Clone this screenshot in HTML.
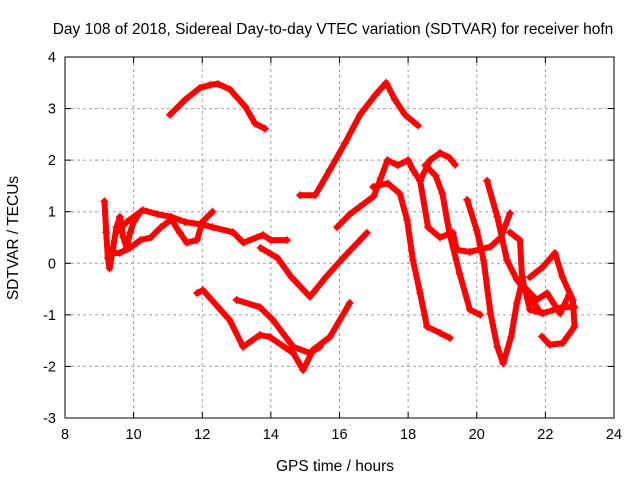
<!DOCTYPE html>
<html><head><meta charset="utf-8"><style>
body{margin:0;background:#fff}
svg{display:block;font-family:"Liberation Sans",sans-serif}
</style></head><body>
<svg id="chart" width="640" height="480">
<text x="333" y="34" text-anchor="middle" font-size="15.5">Day 108 of 2018, Sidereal Day-to-day VTEC variation (SDTVAR) for receiver hofn</text>
<text x="335" y="471" text-anchor="middle" font-size="15.5">GPS time / hours</text>
<text transform="translate(18,238) rotate(-90)" text-anchor="middle" font-size="15.5">SDTVAR / TECUs</text>
<g id="grid"></g><g id="series"></g><g id="axes"></g>
</svg>
<script>
const xTicks=[8,10,12,14,16,18,20,22,24];
const yTicks=[-3,-2,-1,0,1,2,3,4];
const traceA_t=[11.06,11.5,11.93,12.23,12.46,12.81,13.25,13.54,13.83];
const traceA_v=[2.88,3.17,3.40,3.46,3.48,3.37,3.04,2.71,2.61];
const traceB_t=[14.85,15.29,15.72,16.16,16.6,17.04,17.36,17.62,17.91,18.29];
const traceB_v=[1.32,1.32,1.81,2.33,2.88,3.26,3.50,3.17,2.88,2.67];
const traceC_t=[9.5,9.8,10.27,10.7,11.1,11.5,12.0,12.3,12.9,13.2,13.77,14.0,14.47];
const traceC_v=[0.6,0.8,1.03,0.95,0.9,0.8,0.75,0.7,0.6,0.4,0.55,0.45,0.45];
const traceC2_t=[9.3,9.6,9.9,10.2,10.5,10.8,11.1,11.35,11.55,11.85,12.0,12.3];
const traceC2_v=[0.2,0.2,0.3,0.45,0.5,0.7,0.85,0.59,0.4,0.45,0.8,1.0];
const traceP_t=[9.15,9.2,9.25,9.3,9.4,9.5,9.6,9.7,9.8,9.9,10.0,10.2];
const traceP_v=[1.2,0.6,0.1,-0.1,0.3,0.7,0.9,0.5,0.3,0.6,0.8,1.0];
const traceD_t=[13.7,14.2,14.6,15.14,15.6,16.1,16.6,16.8];
const traceD_v=[0.3,0.1,-0.27,-0.65,-0.27,0.1,0.45,0.59];
const traceE_t=[15.93,16.3,16.6,17.0,17.2,17.4,17.7,18.0,18.14,18.35,18.58,18.93,19.3,19.42,19.8,20.4,20.7,20.97];
const traceE_v=[0.7,0.95,1.1,1.3,1.65,2.0,1.9,2.0,1.81,1.6,0.7,0.5,0.6,0.26,0.22,0.32,0.5,0.97];
const traceF_t=[18.35,18.64,18.93,19.2,19.37];
const traceF_v=[1.6,2.0,2.14,2.05,1.91];
const traceF2_t=[18.5,18.8,19.0,19.2,19.5,19.8,20.1];
const traceF2_v=[1.9,1.7,1.35,0.6,-0.2,-0.9,-1.0];
const traceG_t=[16.98,17.41,17.76,17.97,18.14,18.35,18.55,18.93,19.22];
const traceG_v=[1.48,1.55,1.35,0.84,0.06,-0.58,-1.23,-1.35,-1.45];
const traceH_t=[20.3,20.6,20.88,21.17,21.5,21.8];
const traceH_v=[1.6,0.9,0.06,-0.32,-0.6,-0.9];
const traceI_t=[19.72,20.0,20.2,20.4,20.6,20.77,21.0,21.17,21.35];
const traceI_v=[1.23,0.64,0.06,-0.97,-1.62,-1.94,-1.43,-0.77,-0.27];
const traceJ_t=[21.55,21.93,22.28,22.5,22.8,22.85,22.5,22.13,21.9];
const traceJ_v=[-0.27,-0.07,0.2,-0.27,-0.71,-1.23,-1.55,-1.58,-1.42];
const traceK_t=[20.97,21.26,21.32,21.55,21.93,22.5,22.85];
const traceK_v=[0.6,0.45,-0.27,-0.9,-0.97,-0.85,-0.85];
const traceL_t=[21.3,21.75,22.05,22.43,22.7];
const traceL_v=[-0.4,-0.71,-0.58,-0.97,-0.6];
const traceM_t=[11.85,12.02,12.8,13.19,13.68,13.97,14.65,14.94,15.23,15.72,16.3];
const traceM_v=[-0.58,-0.52,-1.1,-1.62,-1.39,-1.43,-1.74,-2.07,-1.68,-1.43,-0.77];
const traceN_t=[13.0,13.68,14.06,14.65,15.14,15.43];
const traceN_v=[-0.71,-0.85,-1.1,-1.62,-1.74,-1.62];
const traces=[[traceA_t,traceA_v],[traceB_t,traceB_v],[traceC_t,traceC_v],[traceC2_t,traceC2_v],[traceP_t,traceP_v],[traceD_t,traceD_v],[traceE_t,traceE_v],[traceF_t,traceF_v],[traceF2_t,traceF2_v],[traceG_t,traceG_v],[traceH_t,traceH_v],[traceI_t,traceI_v],[traceJ_t,traceJ_v],[traceK_t,traceK_v],[traceL_t,traceL_v],[traceM_t,traceM_v],[traceN_t,traceN_v]];

const L=65,R=614,T=57,B=418;
const xs=h=>L+(h-8)/16*(R-L);
const ys=v=>B-(v+3)/7*(B-T);
const NS="http://www.w3.org/2000/svg";
function mk(tag,attrs,parent){const e=document.createElementNS(NS,tag);for(const k in attrs)e.setAttribute(k,attrs[k]);parent.appendChild(e);return e;}
const grid=document.getElementById('grid'),axes=document.getElementById('axes'),ser=document.getElementById('series');
xTicks.forEach(t=>{
  const x=xs(t);
  if(t>8&&t<24){const g=mk('line',{x1:x,x2:x,y1:T,y2:B,stroke:'#a0a0a0','stroke-dasharray':'3,3'},grid);
  
  }
  mk('line',{x1:x,x2:x,y1:B,y2:B-6,stroke:'#000'},axes);
  mk('line',{x1:x,x2:x,y1:T,y2:T+6,stroke:'#000'},axes);
  const tx=mk('text',{x:x,y:B+21,'text-anchor':'middle','font-size':14.5},axes);tx.textContent=t;
  
  
});
yTicks.forEach(t=>{
  const y=ys(t);
  if(t>-3&&t<4){const g=mk('line',{x1:L,x2:R,y1:y,y2:y,stroke:'#a0a0a0','stroke-dasharray':'3,3'},grid);
  
  }
  mk('line',{x1:L,x2:L+6,y1:y,y2:y,stroke:'#000'},axes);
  mk('line',{x1:R,x2:R-6,y1:y,y2:y,stroke:'#000'},axes);
  const tx=mk('text',{x:L-9,y:y+5,'text-anchor':'end','font-size':14.5},axes);tx.textContent=t;
  
  
});
const frame=mk('rect',{x:L,y:T,width:R-L,height:B-T,fill:'none',stroke:'#000'},axes);


traces.forEach(([ts,vs])=>{
  const pts=ts.map((t,i)=>xs(t)+','+ys(vs[i])).join(' ');
  const pl=mk('polyline',{points:pts,fill:'none',stroke:'#f00','stroke-width':6,'stroke-linejoin':'round','stroke-linecap':'round'},ser);
  
  
  ts.forEach((t,i)=>{
    const x=xs(t),y=ys(vs[i]);
    const p=mk('path',{d:`M${x-4},${y}H${x+4}M${x},${y-4}V${y+4}`,stroke:'#f00','stroke-width':1.2},ser);
    
    
  });
});
</script>
</body></html>
